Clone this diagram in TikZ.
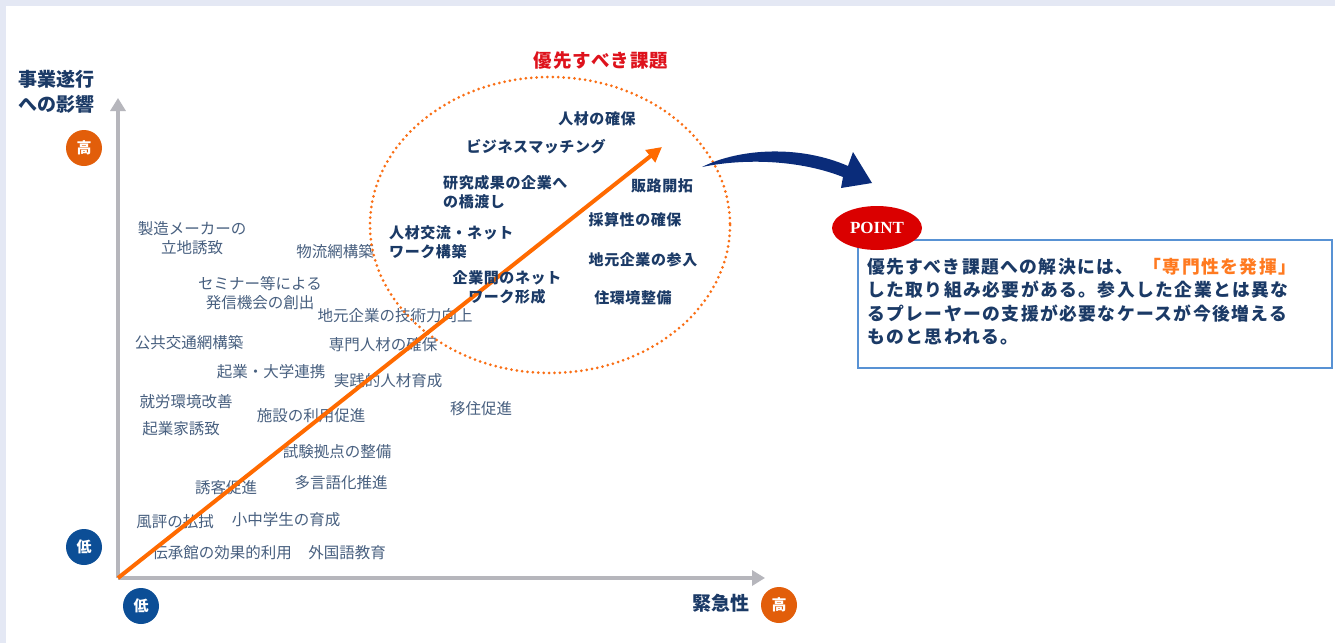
\documentclass[tikz,border=0pt]{standalone}
\usepackage{fontspec}
\setmainfont{Noto Sans CJK JP}
\newfontfamily\pointfont{Liberation Serif}
\usetikzlibrary{arrows.meta,shapes.geometric}
\definecolor{framebg}{RGB}{228,232,244}
\definecolor{slate}{RGB}{72,96,128}
\definecolor{navy}{RGB}{27,58,102}
\definecolor{axisgray}{RGB}{182,182,188}
\definecolor{arrorange}{RGB}{255,106,0}
\definecolor{dotorange}{RGB}{250,110,20}
\definecolor{badgeorange}{RGB}{226,94,10}
\definecolor{badgeblue}{RGB}{12,78,150}
\definecolor{titlered}{RGB}{222,18,28}
\definecolor{pointred}{RGB}{218,0,0}
\definecolor{boxblue}{RGB}{88,146,212}
\definecolor{accent}{RGB}{255,122,32}
\definecolor{curvenavy}{RGB}{10,44,122}
\begin{document}
\begin{tikzpicture}[x=1pt,y=-1pt,
  lbl/.style={text=slate, font=\fontsize{15.5}{19}\selectfont, inner sep=0pt, align=center},
  key/.style={text=navy, font=\fontsize{15}{19}\selectfont\bfseries\addfontfeature{LetterSpace=4}, inner sep=0pt},
  badge/.style={circle, minimum size=36pt, inner sep=0pt, text=white, font=\fontsize{15}{15}\selectfont\bfseries},
  axisline/.style={draw=axisgray, line width=4pt, -{Triangle[length=13pt,width=15pt]}},
  axislabel/.style={text=navy, font=\fontsize{19}{24.5}\selectfont\bfseries, inner sep=0pt, align=left},
]
\useasboundingbox (0,0) rectangle (1335,643);
\fill[framebg] (0,0) rectangle (1335,643);
\fill[white] (6,6) rectangle (1335,643);

% axes
\coordinate (o) at (118,578);
\coordinate (ytop) at (118,98);
\coordinate (xend) at (765,578);
\coordinate (otip) at (662,147);
\draw[axisline] (o) -- (ytop);
\draw[axisline] (o) -- (xend);

\node[axislabel] (ylab) at (56,92) {事業遂行\\への影響};
\node[axislabel, anchor=center] (xlab) at (721,603) {緊急性};
\node[badge, fill=badgeorange] (yhigh) at (84,148) {高};
\node[badge, fill=badgeblue] (ylow) at (84,547) {低};
\node[badge, fill=badgeblue] (xlow) at (141,606) {低};
\node[badge, fill=badgeorange] (xhigh) at (779,605) {高};

% gray labels
\node[lbl] (g1) at (192,238) {製造メーカーの\\立地誘致};
\node[lbl] (g2) at (335,252) {物流網構築};
\node[lbl] (g3) at (260,293) {セミナー等による\\発信機会の創出};
\node[lbl] (g4) at (395,316) {地元企業の技術力向上};
\node[lbl] (g5) at (189,343) {公共交通網構築};
\node[lbl] (g6) at (383,345) {専門人材の確保};
\node[lbl] (g7) at (271,372) {起業・大学連携};
\node[lbl] (g8) at (388,381) {実践的人材育成};
\node[lbl] (g9) at (186,402) {就労環境改善};
\node[lbl] (g10) at (481,409) {移住促進};
\node[lbl] (g11) at (311,416) {施設の利用促進};
\node[lbl] (g12) at (181,429) {起業家誘致};
\node[lbl] (g13) at (337,452) {試験拠点の整備};
\node[lbl] (g14) at (341,483) {多言語化推進};
\node[lbl] (g15) at (226,488) {誘客促進};
\node[lbl] (g16) at (175,522) {風評の払拭};
\node[lbl] (g17) at (286,520) {小中学生の育成};
\node[lbl] (g18) at (222,553) {伝承館の効果的利用};
\node[lbl] (g19) at (347,553) {外国語教育};

% priority ellipse
\draw[dotorange, line width=3pt, line cap=round, dash pattern=on 0pt off 5.4pt] (550,225) ellipse [x radius=180, y radius=148];
\node[text=titlered, font=\fontsize{18.5}{20}\selectfont\bfseries\addfontfeature{LetterSpace=6}, inner sep=0pt] (title) at (601,61) {優先すべき課題};

% orange arrow
\draw[arrorange, line width=4pt, -{Triangle[length=15pt,width=15pt]}] (o) -- (otip);

% key labels
\node[key] (k1) at (597,119) {人材の確保};
\node[key] (k2) at (536,147) {ビジネスマッチング};
\node[key, anchor=west, align=left] (k3) at (443,192.5) {研究成果の企業へ\\の橋渡し};
\node[key] (k4) at (662,186) {販路開拓};
\node[key] (k5) at (635,220) {採算性の確保};
\node[key, anchor=west, align=left] (k6) at (389,242) {人材交流・ネット\\ワーク構築};
\node[key] (k7) at (643,260) {地元企業の参入};
\node[key, align=center] (k8) at (507,287.5) {企業間のネット\\ワーク形成};
\node[key] (k9) at (633,298) {住環境整備};

% curved arrow
\fill[curvenavy] (702,167) .. controls (740,148) and (800,145) .. (848,166)
  -- (853,152) -- (872,183) -- (841,188) -- (843,177)
  .. controls (800,160) and (745,158) .. (702,167) -- cycle;

% point box
\node[draw=boxblue, line width=1.8pt, fill=white, minimum width=474pt, minimum height=128pt, anchor=north west, inner sep=0pt] (box) at (857,239) {};
\node[anchor=north west, inner sep=0pt, align=left, text=navy,
  font=\fontsize{17.8}{23.3}\selectfont\bfseries\addfontfeature{LetterSpace=8}] (boxtext) at (867,258)
  {優先すべき課題への解決には、\hspace{10pt}{\color{accent}「専門性を発揮」}\\した取り組み必要がある。参入した企業とは異な\\るプレーヤーの支援が必要なケースが今後増える\\ものと思われる。};
\node[ellipse, fill=pointred, minimum width=90pt, minimum height=44pt, inner sep=0pt, text=white,
  font=\pointfont\fontsize{17}{17}\selectfont\bfseries] (point) at (877,228) {POINT};
\end{tikzpicture}
\end{document}
